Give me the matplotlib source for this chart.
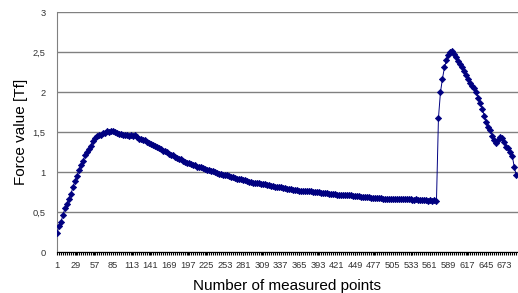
import numpy as np
import matplotlib
matplotlib.use("Agg")
import matplotlib.pyplot as plt
import matplotlib.ticker as ticker

plt.rcParams['font.family'] = ['Liberation Sans', 'DejaVu Sans']

# measured force values, read every 3rd point (points 1, 4, 7, ... 691)
point_step = 3
force = [
    0.24, 0.33, 0.38, 0.47, 0.55, 0.60, 0.67, 0.73, 0.82, 0.89,
    0.95, 1.03, 1.09, 1.14, 1.21, 1.25, 1.29, 1.33, 1.39, 1.43,
    1.45, 1.46, 1.47, 1.49, 1.49, 1.51, 1.50, 1.51, 1.52, 1.50,
    1.49, 1.48, 1.48, 1.47, 1.46, 1.46, 1.45, 1.46, 1.45, 1.46,
    1.44, 1.42, 1.41, 1.40, 1.40, 1.38, 1.37, 1.35, 1.34, 1.33,
    1.31, 1.30, 1.29, 1.27, 1.26, 1.25, 1.23, 1.22, 1.21, 1.19,
    1.18, 1.16, 1.16, 1.14, 1.13, 1.12, 1.12, 1.10, 1.09, 1.09,
    1.07, 1.07, 1.06, 1.05, 1.04, 1.03, 1.03, 1.01, 1.01, 1.00,
    0.99, 0.98, 0.98, 0.97, 0.96, 0.96, 0.95, 0.94, 0.94, 0.93,
    0.92, 0.91, 0.91, 0.90, 0.90, 0.89, 0.88, 0.88, 0.87, 0.87,
    0.86, 0.86, 0.85, 0.85, 0.85, 0.84, 0.84, 0.83, 0.83, 0.82,
    0.82, 0.81, 0.81, 0.80, 0.80, 0.79, 0.79, 0.79, 0.78, 0.78,
    0.78, 0.77, 0.77, 0.77, 0.76, 0.76, 0.76, 0.76, 0.75, 0.75,
    0.75, 0.75, 0.74, 0.74, 0.74, 0.74, 0.73, 0.73, 0.73, 0.73,
    0.72, 0.72, 0.72, 0.72, 0.71, 0.71, 0.71, 0.71, 0.70, 0.70,
    0.70, 0.70, 0.69, 0.69, 0.69, 0.69, 0.69, 0.68, 0.68, 0.68,
    0.68, 0.68, 0.68, 0.67, 0.67, 0.67, 0.67, 0.67, 0.67, 0.67,
    0.66, 0.66, 0.66, 0.66, 0.66, 0.66, 0.66, 0.66, 0.65, 0.65,
    0.66, 0.65, 0.65, 0.65, 0.65, 0.65, 0.64, 0.65, 0.64, 0.65,
    0.64,
    1.68, 2.00, 2.17, 2.31, 2.40, 2.47, 2.50, 2.52, 2.48, 2.44,
    2.39, 2.35, 2.31, 2.26, 2.21, 2.17, 2.12, 2.08, 2.05, 2.00,
    1.93, 1.86, 1.79, 1.70, 1.63, 1.56, 1.53, 1.45, 1.40, 1.36,
    1.40, 1.44, 1.43, 1.38, 1.31, 1.30, 1.25, 1.20, 1.06, 0.96,
]
points = np.arange(len(force)) * point_step + 1
tick_labels = list(range(1, 674, 28))

fig = plt.figure(figsize=(5.18, 2.93), dpi=100)
ax = fig.add_axes([0.1095, 0.139, 0.8905, 0.819])

ax.plot(points, force, color='#000080', linewidth=0.7,
        marker='D', markersize=3.2, markeredgewidth=0.5, zorder=3)

ax.set_xlim(0.5, 693.5)
ax.set_ylim(0, 3)
ax.set_yticks(np.arange(0, 3.01, 0.5))
ax.yaxis.set_major_formatter(ticker.FuncFormatter(lambda v, p: ('%g' % v).replace('.', ',')))
ax.grid(axis='y', color='#808080', linewidth=1.0)
ax.set_axisbelow(True)

ax.set_xticks(tick_labels)
ax.set_xticks(np.arange(1, 694, 3), minor=True)
ax.tick_params(axis='x', which='both', length=2, width=0.8, color='black',
               labelsize=6.7, labelcolor='#333333', pad=4)
ax.tick_params(axis='y', length=0, labelsize=6.7, labelcolor='#333333', pad=8)

for s in ['top', 'right']:
    ax.spines[s].set_visible(False)
ax.spines['left'].set_color('#808080')
ax.spines['bottom'].set_color('black')

ax.set_xlabel('Number of measured points', fontsize=11, labelpad=7)
ax.set_ylabel('Force value [Tf]', fontsize=11)
ax.yaxis.set_label_coords(-0.062, 0.5)

fig.savefig('out.png', dpi=100)
